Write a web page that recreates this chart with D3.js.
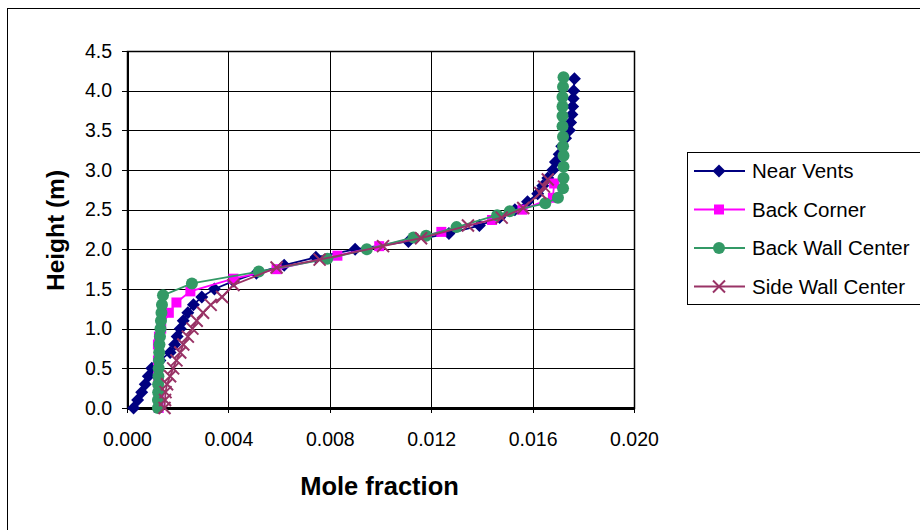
<!DOCTYPE html>
<html>
<head>
<meta charset="utf-8">
<script src="https://cdn.jsdelivr.net/npm/d3@7"></script>
<style>
  body { margin: 0; background: #fff; }
  svg { display: block; font-family: "Liberation Sans", Arial, sans-serif; }
  .grid line { stroke: #000; stroke-width: 1; shape-rendering: crispEdges; }
  .axis text { font-size: 19.5px; fill: #000; font-family: "Liberation Sans", Arial, sans-serif; }
  .axis path, .axis line { stroke: #000; shape-rendering: crispEdges; }
</style>
</head>
<body>
<svg id="chart" width="920" height="530"></svg>
<script>
// series names
var seriesNames = ['Near Vents', 'Back Corner', 'Back Wall Center', 'Side Wall Center'];

// Near Vents: mole fraction and height (m)
var nearVentsX = [0.00026,0.00042,0.00058,0.00072,0.00084,0.00098,0.00130,0.00170,0.00188,0.00198,
  0.00210,0.00222,0.00240,0.00262,0.00295,0.00345,0.00420,0.00510,0.00620,0.00745,
  0.00900,0.01110,0.01270,0.01390,0.01470,0.01530,0.01580,0.01620,0.01640,0.01660,
  0.01680,0.01690,0.01705,0.01715,0.01730,0.01745,0.01750,0.01755,0.01758,0.01760,
  0.01762,0.01765];
var nearVentsY = [0.0,0.1,0.2,0.3,0.4,0.5,0.6,0.7,0.8,0.9,
  1.0,1.1,1.2,1.3,1.4,1.5,1.6,1.7,1.8,1.9,
  2.0,2.1,2.2,2.3,2.4,2.5,2.6,2.7,2.8,2.9,
  3.0,3.1,3.2,3.3,3.4,3.5,3.6,3.7,3.8,3.9,
  4.0,4.15];

// Back Corner
var backCornerX = [0.00125,0.00125,0.00123,0.00122,0.00122,0.00126,0.00135,0.00165,0.00195,0.00250,
  0.00420,0.00590,0.00830,0.00995,0.01240,0.01440,0.01560,0.01680,0.01685];
var backCornerY = [0.0,0.2,0.4,0.6,0.8,0.9,1.0,1.2,1.33,1.47,
  1.63,1.75,1.92,2.04,2.22,2.37,2.50,2.65,2.83];

// Back Wall Center
var backWallX = [0.00122,0.00122,0.00123,0.00123,0.00124,0.00125,0.00126,0.00127,0.00128,0.00130,
  0.00132,0.00134,0.00136,0.00138,0.00142,0.00256,0.00520,0.00790,0.00946,0.01130,
  0.01180,0.01300,0.01460,0.01510,0.01650,0.01700,0.01720,0.01722,0.01722,0.01722,
  0.01720,0.01720,0.01718,0.01718,0.01718,0.01718,0.01720,0.01722];
var backWallY = [0.0,0.1,0.2,0.3,0.4,0.5,0.6,0.7,0.8,0.9,
  1.0,1.1,1.2,1.3,1.42,1.57,1.72,1.88,2.00,2.15,
  2.17,2.28,2.43,2.48,2.58,2.65,2.77,2.90,3.04,3.18,
  3.30,3.42,3.55,3.68,3.80,3.92,4.05,4.17];

// Side Wall Center
var sideWallX = [0.00148,0.00150,0.00152,0.00158,0.00170,0.00182,0.00195,0.00210,0.00222,0.00240,
  0.00258,0.00275,0.00300,0.00330,0.00375,0.00420,0.00590,0.00760,0.01010,0.01160,
  0.01345,0.01478,0.01563,0.01630,0.01645,0.01660];
var sideWallY = [0.0,0.1,0.2,0.3,0.4,0.5,0.6,0.7,0.8,0.9,
  1.0,1.1,1.2,1.3,1.4,1.55,1.77,1.87,2.04,2.14,
  2.30,2.40,2.52,2.71,2.79,2.88];

// tick values
var xTicks = [0, 0.004, 0.008, 0.012, 0.016, 0.020];
var yTicks = [0, 0.5, 1.0, 1.5, 2.0, 2.5, 3.0, 3.5, 4.0, 4.5];

var colors = ['#000080', '#FF00FF', '#339966', '#993366'];
var markers = ['diamond', 'square', 'circle', 'cross'];

function zip(xs, ys) {
  return xs.map(function(v, i) { return {x: v, y: ys[i]}; });
}
var allSeries = [
  zip(nearVentsX, nearVentsY),
  zip(backCornerX, backCornerY),
  zip(backWallX, backWallY),
  zip(sideWallX, sideWallY)
];

const svg = d3.select("#chart"),
  margin = {top: 51, left: 127, right: 920 - 634, bottom: 530 - 408},
  width = 920 - margin.left - margin.right,
  height = 530 - margin.top - margin.bottom;

// outer chart border (only top and left visible in the picture)
svg.append("rect")
  .attr("x", 7.5).attr("y", 8.5)
  .attr("width", 930).attr("height", 540)
  .attr("fill", "none").attr("stroke", "#000").attr("stroke-width", 1);

const x = d3.scaleLinear().domain([0, 0.02]).range([0, width]);
const y = d3.scaleLinear().domain([0, 4.5]).range([height, 0]);

const g = svg.append("g").attr("transform", `translate(${margin.left},${margin.top})`);

// gridlines
g.append("g").attr("class", "grid")
  .selectAll("line").data(yTicks).enter().append("line")
  .attr("x1", 0).attr("x2", width)
  .attr("y1", d => Math.round(y(d)) + 0.5).attr("y2", d => Math.round(y(d)) + 0.5);
g.append("g").attr("class", "grid")
  .selectAll("line").data(xTicks).enter().append("line")
  .attr("y1", 0).attr("y2", height)
  .attr("x1", d => Math.round(x(d)) + 0.5).attr("x2", d => Math.round(x(d)) + 0.5);

// plot frame
g.append("rect")
  .attr("x", 0.5).attr("y", 0.5).attr("width", width).attr("height", height)
  .attr("fill", "none").attr("stroke", "#000").attr("stroke-width", 1.5);

// axes
g.append("g").attr("class", "axis axis-x")
  .attr("transform", `translate(0,${height})`)
  .call(d3.axisBottom(x).tickValues(xTicks).tickFormat(d3.format(".3f")).tickSizeOuter(0).tickSizeInner(5).tickPadding(19))
  .call(a => a.select(".domain").attr("stroke-width", 2.5));

g.append("g").attr("class", "axis axis-y")
  .call(d3.axisLeft(y).tickValues(yTicks).tickFormat(d3.format(".1f")).tickSizeOuter(0).tickSizeInner(5).tickPadding(10))
  .call(a => a.select(".domain").attr("stroke-width", 2));

// axis titles
svg.append("text")
  .attr("x", margin.left + width / 2 - 1).attr("y", 495)
  .attr("text-anchor", "middle")
  .attr("font-size", 25.5).attr("font-weight", "bold")
  .text("Mole fraction");

svg.append("text")
  .attr("transform", `translate(64,${margin.top + height / 2 + 1}) rotate(-90)`)
  .attr("text-anchor", "middle")
  .attr("font-size", 24.5).attr("font-weight", "bold")
  .text("Height (m)");

// marker drawing
function drawMarker(sel, type, color) {
  if (type === 'diamond') {
    sel.append("path").attr("d", "M0,-6.5L6.5,0L0,6.5L-6.5,0Z").attr("fill", color);
  } else if (type === 'square') {
    sel.append("rect").attr("x", -5).attr("y", -5).attr("width", 10).attr("height", 10).attr("fill", color);
  } else if (type === 'circle') {
    sel.append("circle").attr("r", 6).attr("fill", color);
  } else {
    sel.append("path").attr("d", "M-6,-6L6,6M-6,6L6,-6")
      .attr("stroke", color).attr("stroke-width", 2).attr("fill", "none");
  }
}

const line = d3.line().x(d => x(d.x)).y(d => y(d.y));

allSeries.forEach(function(data, i) {
  const sg = g.append("g").attr("class", "series");
  sg.append("path")
    .datum(data)
    .attr("fill", "none")
    .attr("stroke", colors[i])
    .attr("stroke-width", 1.8)
    .attr("d", line);
  sg.selectAll(".pt").data(data).enter().append("g")
    .attr("class", "pt")
    .attr("transform", d => `translate(${x(d.x)},${y(d.y)})`)
    .each(function() { drawMarker(d3.select(this), markers[i], colors[i]); });
});

// legend
const legend = svg.append("g").attr("transform", "translate(687,152)");
legend.append("rect")
  .attr("x", 0.5).attr("y", 0.5).attr("width", 240).attr("height", 152)
  .attr("fill", "#fff").attr("stroke", "#000").attr("stroke-width", 1);

seriesNames.forEach(function(name, i) {
  const ly = 19 + i * 38.5;
  const item = legend.append("g").attr("transform", `translate(0,${ly})`);
  item.append("line")
    .attr("x1", 7).attr("x2", 58).attr("y1", 0).attr("y2", 0)
    .attr("stroke", colors[i]).attr("stroke-width", 1.8);
  drawMarker(item.append("g").attr("transform", "translate(32,0)"), markers[i], colors[i]);
  item.append("text")
    .attr("x", 65).attr("y", 7)
    .attr("font-size", 20.5)
    .text(name);
});
</script>
</body>
</html>
